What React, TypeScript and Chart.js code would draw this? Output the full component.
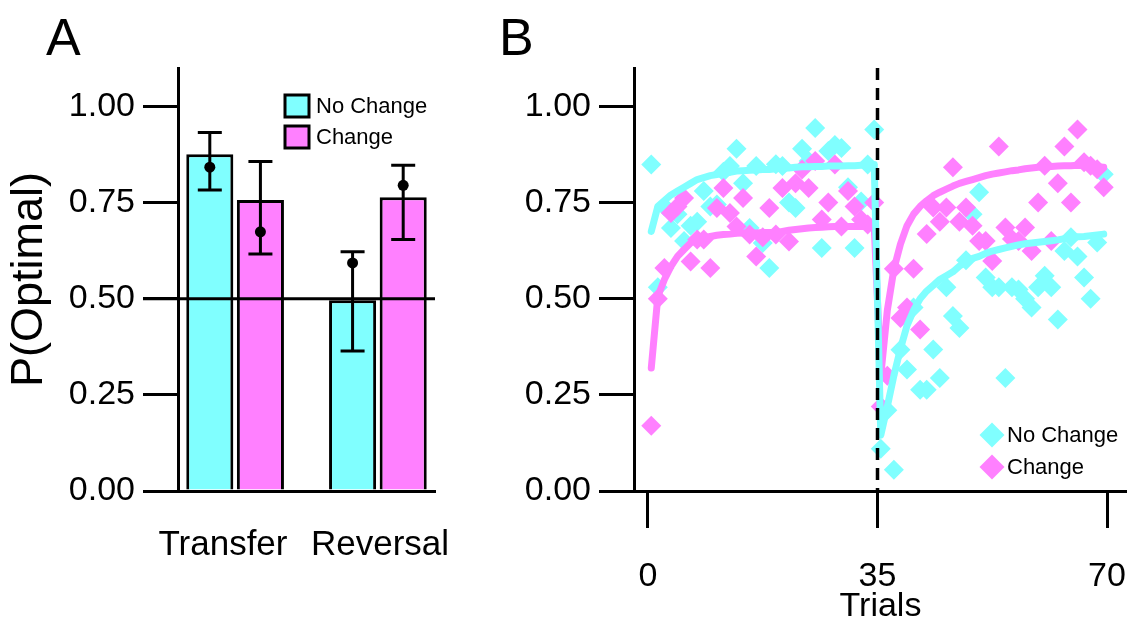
import React, { useEffect, useRef } from 'react';
import { Chart, registerables } from 'chart.js';

Chart.register(...registerables);

const FONT = "'Liberation Sans', Arial, Helvetica, sans-serif";
const CYAN = '#80FFFF';
const MAGENTA = '#FF80FF';
const BLACK = '#000000';

// ---------- Panel A data ----------
const groupLabels = ['Transfer', 'Reversal'];
const groupPositions = [1, 2];
const groupLabelPositions = [0.915, 2.015];
const noChangeBar = [0.876, 0.496];
const changeBar = [0.757, 0.764];
const noChangeMean = [0.842, 0.593];
const changeMean = [0.674, 0.795];
const noChangeLow = [0.783, 0.364];
const noChangeHigh = [0.932, 0.622];
const changeLow = [0.616, 0.654];
const changeHigh = [0.857, 0.847];
const yTickValues = [0, 0.25, 0.5, 0.75, 1.0];
const chanceLevel = 0.5;
const seriesLabels = ['No Change', 'Change'];

// ---------- Panel B data ----------
const trials = Array.from({ length: 70 }, (_, i) => i + 1);
const noChangeObs = [
  0.849, 0.53, 0.74, 0.684, 0.72, 0.65, 0.69, 0.70, 0.78, 0.74,
  0.745, 0.83, 0.845, 0.89, 0.80, 0.684, 0.845, 0.645, 0.58, 0.85,
  0.845, 0.75, 0.736, 0.89, 0.858, 0.944, 0.632, 0.884, 0.90, 0.892,
  0.79, 0.632, 0.753, 0.849, 0.94,
  0.11, 0.21, 0.055, 0.367, 0.316, 0.477, 0.263, 0.263, 0.368, 0.294,
  0.53, 0.455, 0.424, 0.60, 0.72, 0.777, 0.555, 0.53, 0.53, 0.294,
  0.53, 0.524, 0.50, 0.477, 0.53, 0.56, 0.53, 0.446, 0.624, 0.66,
  0.61, 0.555, 0.50, 0.646, 0.824,
];
const changeObs = [
  0.17, 0.50, 0.58, 0.723, 0.74, 0.762, 0.597, 0.654, 0.654, 0.58,
  0.736, 0.788, 0.723, 0.688, 0.762, 0.667, 0.61, 0.66, 0.736, 0.667,
  0.788, 0.649, 0.80, 0.836, 0.788, 0.858, 0.706, 0.75, 0.849, 0.688,
  0.78, 0.74, 0.706, 0.693, 0.75,
  0.22, 0.30, 0.578, 0.45, 0.477, 0.578, 0.42, 0.668, 0.737, 0.70,
  0.737, 0.842, 0.70, 0.737, 0.69, 0.65, 0.65, 0.598, 0.896, 0.685,
  0.655, 0.65, 0.685, 0.624, 0.75, 0.846, 0.65, 0.80, 0.896, 0.75,
  0.94, 0.855, 0.846, 0.837, 0.79,
];
const noChangeFit = [
  0.675, 0.74, 0.755, 0.77, 0.78, 0.79, 0.80, 0.81, 0.815, 0.82,
  0.823, 0.826, 0.829, 0.832, 0.833, 0.834, 0.835, 0.836, 0.836, 0.838,
  0.839, 0.84, 0.842, 0.843, 0.843, 0.844, 0.844, 0.845, 0.845, 0.845,
  0.846, 0.846, 0.847, 0.848, 0.849,
  0.145, 0.22, 0.30, 0.37, 0.43, 0.47, 0.50, 0.52, 0.535, 0.55,
  0.56, 0.57, 0.585, 0.595, 0.605, 0.61, 0.618, 0.624, 0.628, 0.632,
  0.636, 0.64, 0.643, 0.645, 0.647, 0.649, 0.651, 0.653, 0.656, 0.658,
  0.661, 0.662, 0.664, 0.666, 0.668,
];
const changeFit = [
  0.32, 0.506, 0.55, 0.584, 0.61, 0.628, 0.645, 0.654, 0.658, 0.662,
  0.665, 0.667, 0.668, 0.67, 0.671, 0.671, 0.671, 0.672, 0.672, 0.672,
  0.675, 0.678, 0.68, 0.682, 0.684, 0.685, 0.686, 0.687, 0.688, 0.688,
  0.688, 0.688, 0.688, 0.688, 0.688,
  0.30, 0.47, 0.577, 0.642, 0.69, 0.72, 0.74, 0.755, 0.768, 0.777,
  0.785, 0.793, 0.80, 0.805, 0.81, 0.815, 0.82, 0.824, 0.827, 0.83,
  0.833, 0.835, 0.838, 0.84, 0.842, 0.843, 0.844, 0.845, 0.846, 0.846,
  0.847, 0.846, 0.845, 0.843, 0.842,
];
const xTickValues = [0.5, 35.5, 70.5];
const xTickLabels = ['0', '35', '70'];
const reversalBoundary = 35.5;

const toXY = (ys: number[]) => trials.map((t, i) => ({ x: t, y: ys[i] }));

const noSidePadding = (scale: any) => {
  scale.paddingLeft = 0;
  scale.paddingRight = 0;
};

const yAxisCommon = (width: number) => ({
  type: 'linear' as const,
  min: 0,
  max: 1.1,
  afterBuildTicks: (scale: any) => {
    scale.ticks = yTickValues.map((v) => ({ value: v }));
  },
  afterFit: (scale: any) => {
    scale.width = width;
    scale.paddingTop = 0;
    scale.paddingBottom = 0;
  },
  ticks: {
    font: { size: 34, family: FONT },
    color: BLACK,
    padding: 8,
    callback: (v: any) => Number(v).toFixed(2),
  },
  grid: {
    display: true,
    drawOnChartArea: false,
    drawTicks: true,
    tickLength: 35,
    tickWidth: 3,
    tickColor: BLACK,
    color: BLACK,
    lineWidth: 3,
  },
  border: { display: true, color: BLACK, width: 3 },
});

const panelAPlugin = {
  id: 'panelAExtras',
  afterDatasetsDraw(chart: any) {
    const { ctx, chartArea } = chart;
    const yS = chart.scales.y;
    const y5 = yS.getPixelForValue(chanceLevel);
    ctx.save();
    ctx.strokeStyle = BLACK;
    ctx.lineWidth = 3;
    ctx.beginPath();
    ctx.moveTo(chartArea.left - 35, y5);
    ctx.lineTo(chartArea.right, y5);
    ctx.stroke();
    const lows = [noChangeLow, changeLow];
    const highs = [noChangeHigh, changeHigh];
    const means = [noChangeMean, changeMean];
    [0, 1].forEach((di) => {
      const meta = chart.getDatasetMeta(di);
      meta.data.forEach((el: any, j: number) => {
        const x = el.x;
        const yl = yS.getPixelForValue(lows[di][j]);
        const yh = yS.getPixelForValue(highs[di][j]);
        const ym = yS.getPixelForValue(means[di][j]);
        ctx.lineWidth = 3;
        ctx.beginPath();
        ctx.moveTo(x, yl);
        ctx.lineTo(x, yh);
        ctx.moveTo(x - 12, yl);
        ctx.lineTo(x + 12, yl);
        ctx.moveTo(x - 12, yh);
        ctx.lineTo(x + 12, yh);
        ctx.stroke();
        ctx.fillStyle = BLACK;
        ctx.beginPath();
        ctx.arc(x, ym, 5.5, 0, Math.PI * 2);
        ctx.fill();
      });
    });
    const lx = chartArea.left + 107;
    const ly = chartArea.top + 27;
    ctx.font = `22px ${FONT}`;
    ctx.textBaseline = 'middle';
    ctx.textAlign = 'left';
    chart.data.datasets.forEach((ds: any, i: number) => {
      const by = ly + i * 31;
      ctx.fillStyle = ds.backgroundColor;
      ctx.fillRect(lx, by, 24, 22);
      ctx.lineWidth = 3;
      ctx.strokeStyle = BLACK;
      ctx.strokeRect(lx, by, 24, 22);
      ctx.fillStyle = BLACK;
      ctx.fillText(ds.label, lx + 31, by + 12);
    });
    ctx.restore();
  },
};

const panelBPlugin = {
  id: 'panelBExtras',
  afterDatasetsDraw(chart: any) {
    const { ctx, chartArea } = chart;
    const xS = chart.scales.x;
    const xb = xS.getPixelForValue(reversalBoundary);
    ctx.save();
    ctx.strokeStyle = BLACK;
    ctx.lineWidth = 3.5;
    ctx.setLineDash([12, 8]);
    ctx.beginPath();
    ctx.moveTo(xb, chartArea.top);
    ctx.lineTo(xb, chartArea.bottom);
    ctx.stroke();
    ctx.setLineDash([]);
    const pts = seriesLabels.map((lab) =>
      chart.data.datasets.find((d: any) => !d.showLine && d.label === lab)
    );
    const lx = chartArea.right - 135;
    const ly = chartArea.bottom - 56;
    ctx.font = `22px ${FONT}`;
    ctx.textBaseline = 'middle';
    ctx.textAlign = 'left';
    pts.forEach((ds: any, i: number) => {
      const cy = ly + i * 32;
      const r = 12.5;
      ctx.fillStyle = ds.backgroundColor;
      ctx.beginPath();
      ctx.moveTo(lx - r, cy);
      ctx.lineTo(lx, cy - r);
      ctx.lineTo(lx + r, cy);
      ctx.lineTo(lx, cy + r);
      ctx.closePath();
      ctx.fill();
      ctx.fillStyle = BLACK;
      ctx.fillText(ds.label, lx + 15, cy + 1);
    });
    ctx.restore();
  },
};

export default function App() {
  const refA = useRef<HTMLCanvasElement>(null);
  const refB = useRef<HTMLCanvasElement>(null);

  useEffect(() => {
    Chart.defaults.font.family = FONT;
    Chart.defaults.color = BLACK;

    const chartA = new Chart(refA.current!, {
      type: 'bar',
      data: {
        datasets: [
          {
            label: seriesLabels[0],
            data: groupPositions.map((x, i) => ({ x, y: noChangeBar[i] })),
            backgroundColor: CYAN,
            borderColor: BLACK,
            borderWidth: 3,
            categoryPercentage: 0.709,
            barPercentage: 0.93,
          },
          {
            label: seriesLabels[1],
            data: groupPositions.map((x, i) => ({ x, y: changeBar[i] })),
            backgroundColor: MAGENTA,
            borderColor: BLACK,
            borderWidth: 3,
            categoryPercentage: 0.709,
            barPercentage: 0.93,
          },
        ],
      },
      options: {
        responsive: false,
        animation: false,
        layout: { autoPadding: false, padding: { top: 68, right: 35, left: 0, bottom: 0 } },
        plugins: { legend: { display: false }, tooltip: { enabled: false } },
        scales: {
          x: {
            type: 'linear',
            min: 0.6,
            max: 2.4,
            offset: false,
            afterBuildTicks: (scale: any) => {
              scale.ticks = groupLabelPositions.map((v) => ({ value: v }));
            },
            afterFit: (scale: any) => {
              scale.height = 135;
              noSidePadding(scale);
            },
            ticks: {
              font: { size: 35, family: FONT },
              color: BLACK,
              padding: 33,
              maxRotation: 0,
              autoSkip: false,
              callback: (_v: any, i: number) => groupLabels[i],
            },
            grid: { display: false, offset: false, drawTicks: false },
            border: { display: true, color: BLACK, width: 3 },
          },
          y: {
            ...yAxisCommon(178),
            title: {
              display: true,
              text: 'P(Optimal)',
              font: { size: 45, family: FONT },
              color: BLACK,
              padding: { top: 3, bottom: 0 },
            },
          },
        },
      } as any,
      plugins: [panelAPlugin],
    });

    const chartB = new Chart(refB.current!, {
      type: 'scatter',
      data: {
        datasets: [
          {
            label: 'No Change fit',
            data: toXY(noChangeFit),
            showLine: true,
            borderColor: CYAN,
            backgroundColor: CYAN,
            borderWidth: 7,
            pointRadius: 0,
            borderJoinStyle: 'round',
            borderCapStyle: 'round',
            order: 0,
          },
          {
            label: 'Change fit',
            data: toXY(changeFit),
            showLine: true,
            borderColor: MAGENTA,
            backgroundColor: MAGENTA,
            borderWidth: 7,
            pointRadius: 0,
            borderJoinStyle: 'round',
            borderCapStyle: 'round',
            order: 1,
          },
          {
            label: seriesLabels[1],
            data: toXY(changeObs),
            showLine: false,
            pointStyle: 'rectRot',
            pointRadius: 10,
            pointBorderWidth: 0,
            backgroundColor: MAGENTA,
            borderColor: MAGENTA,
            order: 2,
          },
          {
            label: seriesLabels[0],
            data: toXY(noChangeObs),
            showLine: false,
            pointStyle: 'rectRot',
            pointRadius: 10,
            pointBorderWidth: 0,
            backgroundColor: CYAN,
            borderColor: CYAN,
            order: 3,
          },
        ],
      },
      options: {
        responsive: false,
        animation: false,
        layout: { autoPadding: false, padding: { top: 68, right: 0, left: 0, bottom: 0 } },
        plugins: { legend: { display: false }, tooltip: { enabled: false } },
        scales: {
          x: {
            type: 'linear',
            min: -1.635,
            max: 73.55,
            afterBuildTicks: (scale: any) => {
              scale.ticks = xTickValues.map((v) => ({ value: v }));
            },
            afterFit: (scale: any) => {
              scale.height = 135;
              noSidePadding(scale);
            },
            ticks: {
              font: { size: 34, family: FONT },
              color: BLACK,
              padding: 28,
              maxRotation: 0,
              autoSkip: false,
              callback: (_v: any, i: number) => xTickLabels[i],
            },
            grid: {
              display: true,
              drawOnChartArea: false,
              drawTicks: true,
              tickLength: 37,
              tickWidth: 3,
              tickColor: BLACK,
              color: BLACK,
              lineWidth: 3,
            },
            border: { display: true, color: BLACK, width: 3 },
            title: {
              display: true,
              text: 'Trials',
              font: { size: 34, family: FONT, lineHeight: 1 },
              color: BLACK,
              padding: { top: 0, bottom: 2 },
            },
          },
          y: yAxisCommon(164),
        },
      } as any,
      plugins: [panelBPlugin],
    });

    return () => {
      chartA.destroy();
      chartB.destroy();
    };
  }, []);

  const panelLabel: React.CSSProperties = {
    position: 'absolute',
    top: 11,
    fontFamily: FONT,
    fontSize: 52,
    lineHeight: 1,
    color: BLACK,
  };

  return (
    <div style={{ position: 'absolute', left: 0, top: 0, width: 1127, height: 626, background: '#fff' }}>
      <canvas ref={refA} width={470} height={626} style={{ position: 'absolute', left: 0, top: 0 }} />
      <canvas ref={refB} width={657} height={626} style={{ position: 'absolute', left: 470, top: 0 }} />
      <div style={{ ...panelLabel, left: 46 }}>A</div>
      <div style={{ ...panelLabel, left: 499 }}>B</div>
    </div>
  );
}
